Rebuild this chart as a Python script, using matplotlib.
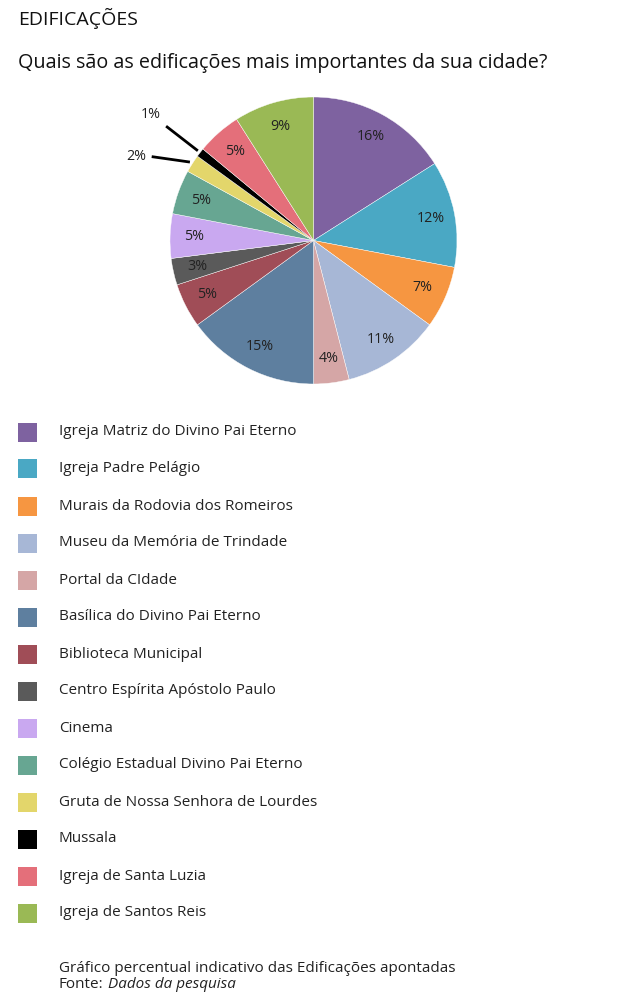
import numpy as np
from matplotlib import pyplot as plt
from matplotlib.patches import Rectangle

plt.rcParams['font.family'] = ['Open Sans', 'DejaVu Sans']

names = ['Igreja Matriz do Divino Pai Eterno', 'Igreja Padre Pelágio',
         'Murais da Rodovia dos Romeiros', 'Museu da Memória de Trindade',
         'Portal da CIdade', 'Basílica do Divino Pai Eterno',
         'Biblioteca Municipal', 'Centro Espírita Apóstolo Paulo', 'Cinema',
         'Colégio Estadual Divino Pai Eterno', 'Gruta de Nossa Senhora de Lourdes',
         'Mussala', 'Igreja de Santa Luzia', 'Igreja de Santos Reis']
pct = [16, 12, 7, 11, 4, 15, 5, 3, 5, 5, 2, 1, 5, 9]
colors = ['#7E62A0', '#4AA8C4', '#F69641', '#A7B7D6', '#D5A6A6', '#5E7F9F',
          '#A04D57', '#5A5A5A', '#C9A8F0', '#67A692', '#E3D66B', '#000000',
          '#E46F7A', '#9AB955']

W, H = 639, 1000
fig = plt.figure(figsize=(W/100, H/100), dpi=100)

# pie: centre (313.5, 240.5) px, radius 143.5 px
R = 143.5
lim = 1.6
ax = fig.add_axes([(313.5 - lim*R)/W, 1 - (240.5 + lim*R)/H, 2*lim*R/W, 2*lim*R/H])
wedges, _ = ax.pie(pct, colors=colors, startangle=90, counterclock=False,
                   wedgeprops=dict(edgecolor='white', linewidth=0.3))
ax.set_xlim(-lim, lim)
ax.set_ylim(-lim, lim)
ax.set_aspect('equal')
ax.axis('off')

for w, p in zip(wedges, pct):
    a = np.deg2rad((w.theta1 + w.theta2) / 2)
    if p >= 3:
        ax.text(0.83*np.cos(a), 0.83*np.sin(a), f'{p}%', ha='center', va='center',
                fontsize=10.3, color='#222222')
    else:
        da = np.deg2rad(5) if p == 2 else 0
        r_end = 1.27 if p == 2 else 1.3
        x0, y0 = 1.02*np.cos(a), 1.02*np.sin(a)
        x1, y1 = r_end*np.cos(a + da), r_end*np.sin(a + da)
        ax.plot([x0, x1], [y0, y1], color='black', lw=2, solid_capstyle='butt')
        ax.text(x1 - 0.04, y1 + (0.03 if p == 1 else 0), f'{p}%', ha='right',
                va='bottom' if p == 1 else 'center', fontsize=10.3, color='#222222')

fig.text(18/W, 1 - 18/H, 'EDIFICAÇÕES', fontsize=14, va='center', ha='left',
         color='#111111')
fig.text(18/W, 1 - 63/H, 'Quais são as edificações mais importantes da sua cidade?',
         fontsize=14.2, va='center', ha='left', color='#111111')

# legend
y0, dy = 432, 37.0
for i, (n, c) in enumerate(zip(names, colors)):
    y = y0 + i*dy
    fig.patches.append(Rectangle((18/W, 1 - (y + 9.5)/H), 19/W, 19/H, facecolor=c,
                                 edgecolor='none', transform=fig.transFigure))
    fig.text(59/W, 1 - y/H, n, fontsize=11, va='center', ha='left', color='#222222')

fig.text(59/W, 1 - 968/H, 'Gráfico percentual indicativo das Edificações apontadas',
         fontsize=11, va='center', ha='left', color='#222222')
t = fig.text(59/W, 1 - 985/H, 'Fonte:', fontsize=11, va='center', ha='left',
             color='#222222')
bb = t.get_window_extent(renderer=fig.canvas.get_renderer())
fig.text(bb.x1/W + 4/W, 1 - 985/H, 'Dados da pesquisa', fontsize=11, va='center',
         ha='left', style='italic', color='#222222')

fig.savefig('out.png', dpi=100)
